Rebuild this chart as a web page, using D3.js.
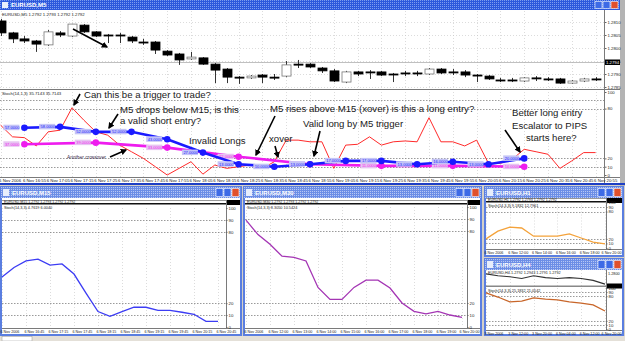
<!DOCTYPE html>
<html>
<head>
<meta charset="utf-8">
<script src="https://cdn.jsdelivr.net/npm/d3@7"></script>
<style>
  body { margin: 0; background: #d4d0c8; }
  svg { display: block; font-family: "Liberation Sans", Arial, sans-serif; }
</style>
</head>
<body>
<svg id="chart" width="625" height="341"></svg>
<script>
// ---- EURUSD M5 candles ----
const m5Open  = [1.28104,1.28058,1.28035,1.28027,1.28012,1.28058,1.28046,1.28088,1.28062,1.28050,1.28050,1.28042,1.28023,1.28023,1.27988,1.27977,1.27958,1.27962,1.27938,1.27919,1.27888,1.27885,1.27896,1.27888,1.27892,1.27938,1.27938,1.27923,1.27912,1.27869,1.27908,1.27908,1.27908,1.27900,1.27904,1.27904,1.27900,1.27919,1.27908,1.27908,1.27896,1.27892,1.27877,1.27877,1.27873,1.27885,1.27881,1.27881,1.27865,1.27873,1.27881];
const m5High  = [1.28112,1.28062,1.28046,1.28031,1.28069,1.28065,1.28092,1.28092,1.28065,1.28054,1.28058,1.28046,1.28035,1.28027,1.27992,1.27981,1.27985,1.27965,1.27942,1.27923,1.27892,1.27896,1.27900,1.27900,1.27950,1.27954,1.27942,1.27927,1.27919,1.27912,1.27912,1.27915,1.27912,1.27904,1.27912,1.27912,1.27923,1.27923,1.27919,1.27915,1.27900,1.27896,1.27885,1.27885,1.27888,1.27892,1.27888,1.27885,1.27877,1.27885,1.27888];
const m5Low   = [1.28046,1.28019,1.28019,1.27985,1.28008,1.28042,1.28042,1.28058,1.28042,1.28019,1.28019,1.28019,1.28012,1.27977,1.27969,1.27935,1.27954,1.27935,1.27865,1.27865,1.27862,1.27881,1.27865,1.27877,1.27888,1.27923,1.27923,1.27904,1.27869,1.27865,1.27892,1.27881,1.27892,1.27869,1.27892,1.27892,1.27896,1.27900,1.27896,1.27888,1.27869,1.27877,1.27869,1.27869,1.27869,1.27873,1.27873,1.27862,1.27862,1.27869,1.27873];
const m5Close = [1.28058,1.28035,1.28027,1.28015,1.28062,1.28050,1.28092,1.28062,1.28046,1.28048,1.28048,1.28027,1.28021,1.27992,1.27973,1.27954,1.27965,1.27938,1.27915,1.27888,1.27887,1.27892,1.27888,1.27887,1.27935,1.27937,1.27927,1.27912,1.27873,1.27908,1.27900,1.27906,1.27896,1.27898,1.27902,1.27902,1.27919,1.27904,1.27906,1.27896,1.27894,1.27881,1.27875,1.27875,1.27885,1.27883,1.27879,1.27865,1.27873,1.27881,1.27879];
const priceTicks = [1.2810, 1.2805, 1.2800, 1.2795, 1.2790, 1.2785];
const m5Ticks = ["6 Nov 2006","6 Nov 16:55","6 Nov 17:05","6 Nov 17:15","6 Nov 17:25","6 Nov 17:35","6 Nov 17:45","6 Nov 17:55","6 Nov 18:05","6 Nov 18:15","6 Nov 18:25","6 Nov 18:35","6 Nov 18:45","6 Nov 18:55","6 Nov 19:05","6 Nov 19:15","6 Nov 19:25","6 Nov 19:35","6 Nov 19:45","6 Nov 19:55","6 Nov 20:05","6 Nov 20:15","6 Nov 20:25","6 Nov 20:35","6 Nov 20:45","6 Nov 20:55"];

// ---- stochastics drawn on the M5 chart ----
const stochM5 = [60,46,45,35,52,54,81,66,52,48,36,28,20,10,0,8,16,1,12,8,10,12,8,16,42,42,40,40,8,36,37,46,36,40,41,40,69,40,40,35,42,14,14,19,31,28,25,8,17,27,27];
const stochM15Bars = [2,5,8,11,14,17,20,23,26,29,32,35,38,41,44];
const stochM15 = [57,58,52,52,43,27,13,10,13,17,17,13,16,13,20];
const stochM30Bars = [2,8,14,20,26,32,38,44];
const stochM30 = [37,39,33,22,13,11,11,10];
const stochLevels = [90,80,20,10];
const stochTicks = [100,80,20,10,0];

// ---- other time frames ----
const m15Ticks = ["6 Nov 2006","6 Nov 16:45","6 Nov 17:15","6 Nov 17:45","6 Nov 18:15","6 Nov 18:45","6 Nov 19:15","6 Nov 19:45","6 Nov 20:15","6 Nov 20:45"];
const m15Stoch = [42,50,55.5,57,52,53,44.5,28.5,13,9,13,16.6,16.6,14,14,12.4,10.7,4.8,4.8];
const m30Ticks = ["6 Nov 2006","6 Nov 12:00","6 Nov 13:00","6 Nov 14:00","6 Nov 15:00","6 Nov 16:00","6 Nov 17:00","6 Nov 18:00","6 Nov 19:00","6 Nov 20:00"];
const m30Stoch = [89,77,69,59,58,55,33,23,23,33,39,39,32.5,20,13,11,13,10,8];
const h1Ticks = ["6 Nov 2006","6 Nov 12:00","6 Nov 14:00","6 Nov 16:00","6 Nov 18:00","6 Nov 20:00"];
const h1Stoch = [20,37,46,44,26,26,26,31,22,13,9];
const h4Ticks = ["3 Nov 2006","3 Nov 12:00","3 Nov 20:00","6 Nov 04:00","6 Nov 12:00","6 Nov 20:00"];
const h4Close = [1.27995,1.27984,1.27978,1.27968,1.27984,1.27973,1.27968,1.27973,1.27968,1.27957,1.27935];
const h4Stoch = [88,78,66,68,76,73,71,66,63,59,44];

// ---- annotations (pixel layout) ----
const notes = [
  {t: "Can this be a trigger to trade?", x: 84, y: 98},
  {t: "M5 drops below M15, is this", x: 120, y: 113},
  {t: "a valid short entry?", x: 120, y: 124},
  {t: "Invalid Longs", x: 189, y: 144},
  {t: "M5 rises above M15 (xover) is this a long entry?", x: 270, y: 112},
  {t: "xover", x: 269, y: 142},
  {t: "Valid long by M5 trigger", x: 303, y: 127},
  {t: "Better long entry", x: 512, y: 116},
  {t: "Escalator to PIPS", x: 512, y: 129},
  {t: "starts here?", x: 526, y: 141}
];
const arrows = [
  [73,29,107,47], [80,94,74,105], [118,114,109,128], [110,157,126,150],
  [275,116,256,155], [275,146,278,157], [320,131,314,156], [505,130,520,152]
];

const svg = d3.select("#chart");
const defs = svg.append("defs");

function dither(id, base, dot) {
  const p = defs.append("pattern").attr("id", id)
      .attr("width", 2).attr("height", 2).attr("patternUnits", "userSpaceOnUse");
  p.append("rect").attr("width", 2).attr("height", 2).attr("fill", base);
  p.append("rect").attr("width", 1).attr("height", 1).attr("fill", dot);
}
dither("barOn", "#2c58dc", "#7d9cf0");
dither("barOff", "#6c8ee6", "#b8c8f4");

defs.append("marker").attr("id", "head")
    .attr("viewBox", "0 0 10 10").attr("refX", 8).attr("refY", 5)
    .attr("markerWidth", 4).attr("markerHeight", 4).attr("orient", "auto")
  .append("path").attr("d", "M0,0L10,5L0,10z").attr("fill", "#000");

function titleBar(g, w, h, title, active) {
  g.append("rect").attr("width", w).attr("height", h).attr("fill", `url(#${active ? "barOn" : "barOff"})`);
  g.append("rect").attr("x", 2).attr("y", 2).attr("width", 6).attr("height", h - 4).attr("fill", "#e8eefc");
  g.append("text").attr("x", 11).attr("y", h - 3).attr("fill", "#fff")
      .attr("font-size", 6).attr("font-weight", "bold").text(title);
  [w - 25, w - 17, w - 9].forEach((bx, k) => {
    g.append("rect").attr("x", bx).attr("y", 1.5).attr("width", 7).attr("height", h - 3)
        .attr("fill", k === 2 ? "#e0502c" : "#3d6ae6").attr("stroke", "#fff").attr("stroke-width", 0.6);
  });
}

// maxX: labels running past this edge are pulled back inside
function timeAxis(g, x, ticks, step, y, maxX, fs) {
  const ax = d3.axisBottom(x)
      .tickValues(ticks.map((t, k) => k * step))
      .tickFormat((d, k) => ticks[k])
      .tickSize(0).tickPadding(1.5);
  const a = g.append("g").attr("transform", `translate(0,${y})`).call(ax);
  a.attr("font-family", null).attr("font-size", null);
  a.select(".domain").remove();
  a.selectAll("text").attr("text-anchor", "start").attr("dx", -2)
      .attr("font-size", fs).attr("fill", "#222")
      .each(function(d) {
        const len = this.getComputedTextLength();
        const over = x(d) - 2 + len - maxX;
        if (over > 0) d3.select(this).attr("dx", -2 - over);
      });
}

function valueAxis(g, y, ticks, x, fmt) {
  const a = g.append("g").attr("transform", `translate(${x},0)`)
      .call(d3.axisRight(y).tickValues(ticks).tickFormat(fmt).tickSize(1.5).tickPadding(1));
  a.attr("font-family", null).attr("font-size", null);
  a.select(".domain").remove();
  a.selectAll("line").attr("stroke", "#666");
  a.selectAll("text").attr("font-size", 4.3).attr("fill", "#222");
}

function vGrid(g, x, ticks, step, y0, y1) {
  g.append("g").selectAll("line").data(ticks.map((t, k) => k * step)).join("line")
      .attr("x1", d => Math.round(x(d)) + 0.5).attr("x2", d => Math.round(x(d)) + 0.5)
      .attr("y1", y0).attr("y2", y1)
      .attr("stroke", "#c4c4c4").attr("stroke-width", 0.6).attr("stroke-dasharray", "1,2");
}

function levelLines(g, y, x0, x1) {
  g.append("g").selectAll("line").data(stochLevels).join("line")
      .attr("x1", x0).attr("x2", x1)
      .attr("y1", d => Math.round(y(d)) + 0.5).attr("y2", d => Math.round(y(d)) + 0.5)
      .attr("stroke", "#6e6e6e").attr("stroke-width", 0.7).attr("stroke-dasharray", "1.5,1.5");
}

// ---------- main M5 window ----------
const main = svg.append("g");
main.append("rect").attr("x", 620).attr("width", 5).attr("height", 186).attr("fill", "#b4b4b4");
titleBar(main.append("g"), 620, 10, "EURUSD,M5", true);
main.append("rect").attr("y", 10).attr("width", 620).attr("height", 173).attr("fill", "#fff");
main.append("rect").attr("y", 183).attr("width", 625).attr("height", 2).attr("fill", "#1e3fc4");

const xM5 = d3.scaleLinear().domain([0, 50]).range([0.6, 595.6]);
const yPrice = d3.scaleLinear().domain([1.2785, 1.2810]).range([87, 22]);
const yStoch = d3.scaleLinear().domain([0, 100]).range([175, 92]);

vGrid(main, xM5, m5Ticks, 2, 11, 177);
main.append("g").selectAll("line").data(priceTicks).join("line")
    .attr("x1", 0).attr("x2", 604)
    .attr("y1", d => Math.round(yPrice(d)) + 0.5).attr("y2", d => Math.round(yPrice(d)) + 0.5)
    .attr("stroke", "#c4c4c4").attr("stroke-width", 0.6).attr("stroke-dasharray", "1,2");
main.append("line").attr("x1", 0).attr("x2", 604).attr("y1", 62.5).attr("y2", 62.5)
    .attr("stroke", "#b0b0b0").attr("stroke-width", 0.8);

main.append("text").attr("x", 2).attr("y", 16).attr("font-size", 4.3).attr("fill", "#222")
    .text("EURUSD,M5  1.2792 1.2793 1.2792 1.2792");

// candles
const bars = d3.range(m5Open.length);
main.append("g").selectAll("line").data(bars).join("line")
    .attr("x1", i => Math.round(xM5(i)) + 0.5).attr("x2", i => Math.round(xM5(i)) + 0.5)
    .attr("y1", i => yPrice(m5High[i])).attr("y2", i => yPrice(m5Low[i]))
    .attr("stroke", "#333").attr("stroke-width", 1);
main.append("g").selectAll("rect").data(bars).join("rect")
    .attr("x", i => Math.round(xM5(i)) - 4)
    .attr("width", 9)
    .attr("y", i => yPrice(Math.max(m5Open[i], m5Close[i])))
    .attr("height", i => Math.max(1, Math.abs(yPrice(m5Open[i]) - yPrice(m5Close[i]))))
    .attr("fill", i => m5Close[i] > m5Open[i] ? "#fff" : "#000")
    .attr("stroke", i => m5Close[i] > m5Open[i] ? "#777" : "#000")
    .attr("stroke-width", 0.8);

// axes frame
main.append("line").attr("x1", 604.5).attr("x2", 604.5).attr("y1", 10).attr("y2", 183).attr("stroke", "#7a7a7a");
main.append("line").attr("x1", 0).attr("x2", 620).attr("y1", 89.5).attr("y2", 89.5).attr("stroke", "#7a7a7a");
main.append("line").attr("x1", 0).attr("x2", 620).attr("y1", 177.5).attr("y2", 177.5).attr("stroke", "#7a7a7a");
valueAxis(main, yPrice, priceTicks, 605, d3.format(".4f"));
main.append("rect").attr("x", 605).attr("y", 59.5).attr("width", 15).attr("height", 5.5).attr("fill", "#000");
main.append("text").attr("x", 606).attr("y", 64).attr("font-size", 4.3).attr("fill", "#fff").text("1.2794");

// stochastic sub-window
levelLines(main, yStoch, 0, 604);
valueAxis(main, yStoch, stochTicks, 605, d3.format("d"));
main.append("text").attr("x", 2).attr("y", 95).attr("font-size", 4.3).attr("fill", "#222")
    .text("Stoch(14,1,3) 35.7143 35.7143");
timeAxis(main, xM5, m5Ticks, 2, 177.5, 619, 4.3);

main.append("path").datum(stochM5)
    .attr("fill", "none").attr("stroke", "#ff2a2a").attr("stroke-width", 1)
    .attr("d", d3.line().x((d, i) => xM5(i)).y(d => yStoch(d)));

function dottedSeries(idx, vals, color, tagFill) {
  const g = main.append("g");
  g.append("path").datum(vals)
      .attr("fill", "none").attr("stroke", color).attr("stroke-width", 2.6)
      .attr("d", d3.line().x((d, k) => xM5(idx[k])).y(d => yStoch(d)));
  const tag = g.selectAll("g.tag").data(vals).join("g")
      .attr("transform", (d, k) => `translate(${xM5(idx[k]) - 21},${yStoch(d) - 3})`);
  tag.append("rect").attr("width", 16).attr("height", 5.5).attr("fill", tagFill);
  tag.append("text").attr("x", 1.5).attr("y", 4.3).attr("font-size", 4).attr("fill", color)
      .text(d => d.toFixed(4));
  g.selectAll("circle").data(vals).join("circle")
      .attr("cx", (d, k) => xM5(idx[k])).attr("cy", d => yStoch(d))
      .attr("r", 3.3).attr("fill", color);
}
dottedSeries(stochM30Bars, stochM30, "#ee1cee", "#e7c4f2");
dottedSeries(stochM15Bars, stochM15, "#1a1aff", "#c4c4f6");

// annotations
main.append("g").selectAll("text").data(notes).join("text")
    .attr("x", d => d.x).attr("y", d => d.y)
    .attr("font-size", 9.6).attr("fill", "#1a1a1a").text(d => d.t);
main.append("text").attr("x", 67).attr("y", 159).attr("font-size", 4.8).attr("fill", "#3a2a4a")
    .text("Another crossover");
main.append("g").selectAll("line").data(arrows).join("line")
    .attr("x1", d => d[0]).attr("y1", d => d[1]).attr("x2", d => d[2]).attr("y2", d => d[3])
    .attr("stroke", "#000").attr("stroke-width", 1.6).attr("marker-end", "url(#head)");

// ---------- child windows ----------
function childWindow(x, y, w, h, title) {
  const g = svg.append("g").attr("transform", `translate(${x},${y})`);
  g.append("rect").attr("width", w).attr("height", h).attr("fill", "#5a7ee0");
  titleBar(g.append("g").attr("transform", "translate(1,1)"), w - 2, 11, title, false);
  g.append("rect").attr("x", 2).attr("y", 12).attr("width", w - 4).attr("height", h - 14).attr("fill", "#fff");
  return g;
}

function stochWindow(o) {
  const g = childWindow(o.x, o.y, o.w, o.h, o.title);
  const x = d3.scaleLinear().domain([0, o.values.length - 1]).range(o.xr);
  const y = d3.scaleLinear().domain([0, 100]).range(o.yr);
  const ax = o.xr[1] + o.pad;
  // collapsed price pane
  g.append("line").attr("x1", 2).attr("x2", ax).attr("y1", o.band + 0.5).attr("y2", o.band + 0.5).attr("stroke", "#999");
  g.append("rect").attr("x", 2).attr("y", o.band + 3).attr("width", ax - 2).attr("height", 1.5).attr("fill", "#111");
  g.append("text").attr("x", 4).attr("y", o.band + 2.8).attr("font-size", 3.6).attr("fill", "#222")
      .text(o.title + " 1.2792 1.2793 1.2792 1.2792");
  g.append("rect").attr("x", ax).attr("y", o.band).attr("width", o.w - 2 - ax).attr("height", 5).attr("fill", "#000");
  vGrid(g, x, o.ticks, 2, o.yr[1], o.yr[0]);
  levelLines(g, y, 2, ax);
  g.append("line").attr("x1", ax + 0.5).attr("x2", ax + 0.5).attr("y1", o.band).attr("y2", o.yr[0] + 2).attr("stroke", "#7a7a7a");
  g.append("line").attr("x1", 2).attr("x2", o.w - 2).attr("y1", o.yr[0] + 1.5).attr("y2", o.yr[0] + 1.5).attr("stroke", "#7a7a7a");
  valueAxis(g, y, [100, 90, 80, 20, 10, 0], ax, d3.format("d"));
  g.append("text").attr("x", 4).attr("y", o.band + 9).attr("font-size", 3.8).attr("fill", "#222").text(o.label);
  timeAxis(g, x, o.ticks, 2, o.yr[0] + 1.5, o.w - 3, 3.7);
  g.append("path").datum(o.values)
      .attr("fill", "none").attr("stroke", o.color).attr("stroke-width", 1.3)
      .attr("d", d3.line().x((d, i) => x(i)).y(d => y(d)));
  return g;
}

stochWindow({x: 0, y: 186, w: 242, h: 150, title: "EURUSD,M15", band: 14,
  xr: [2, 218], yr: [141, 22], pad: 8, ticks: m15Ticks, values: m15Stoch,
  color: "#3c3cf4", label: "Stoch(14,3,3) 4.7619 6.0040"});
stochWindow({x: 243, y: 186, w: 239, h: 150, title: "EURUSD,M30", band: 14,
  xr: [3, 219], yr: [141, 21], pad: 5, ticks: m30Ticks, values: m30Stoch,
  color: "#a435b4", label: "Stoch(14,3,3) 8.3050 10.5424"});
stochWindow({x: 484, y: 186, w: 140, h: 71, title: "EURUSD,H1", band: 12,
  xr: [2, 121], yr: [62, 16.5], pad: 1, ticks: h1Ticks, values: h1Stoch,
  color: "#f4a23a", label: "Stoch(14,3,3) 9.1832 12.7961"});

// H4 window: price line pane + stochastic pane
{
  const g = childWindow(484, 258, 140, 78, "EURUSD,H4");
  const x = d3.scaleLinear().domain([0, h4Close.length - 1]).range([2, 121]);
  const yP = d3.scaleLinear().domain([1.2793, 1.2800]).range([27, 15]);
  const y = d3.scaleLinear().domain([0, 100]).range([71, 30]);
  const ax = 122;
  vGrid(g, x, h4Ticks, 2, 12, 72);
  g.append("text").attr("x", 4).attr("y", 16).attr("font-size", 3.8).attr("fill", "#222")
      .text("EURUSD,H4 1.2792 1.2943 1.2791 1.2792");
  g.append("path").datum(h4Close)
      .attr("fill", "none").attr("stroke", "#333").attr("stroke-width", 1.2)
      .attr("d", d3.line().x((d, i) => x(i)).y(d => yP(d)));
  g.append("rect").attr("x", 2).attr("y", 27.5).attr("width", ax - 2).attr("height", 1.5).attr("fill", "#888");
  g.append("rect").attr("x", ax).attr("y", 25.5).attr("width", 16).attr("height", 5).attr("fill", "#000");
  g.append("text").attr("x", ax + 2).attr("y", 17).attr("font-size", 3.8).attr("fill", "#222").text("1.2800");
  levelLines(g, y, 2, ax);
  g.append("line").attr("x1", ax + 0.5).attr("x2", ax + 0.5).attr("y1", 12).attr("y2", 73).attr("stroke", "#7a7a7a");
  g.append("line").attr("x1", 2).attr("x2", 138).attr("y1", 72.5).attr("y2", 72.5).attr("stroke", "#7a7a7a");
  valueAxis(g, y, [100, 90, 80, 20, 10, 0], ax, d3.format("d"));
  g.append("text").attr("x", 4).attr("y", 34).attr("font-size", 3.8).attr("fill", "#222")
      .text("Stoch(14,3,3) 25.1832 21.0542");
  timeAxis(g, x, h4Ticks, 2, 72.5, 137, 3.7);
  g.append("path").datum(h4Stoch)
      .attr("fill", "none").attr("stroke", "#c8662a").attr("stroke-width", 1.3)
      .attr("d", d3.line().x((d, i) => x(i)).y(d => y(d)));
}

// status strip
svg.append("rect").attr("y", 336).attr("width", 625).attr("height", 5).attr("fill", "#e4e0d8");
svg.append("rect").attr("x", 2).attr("y", 336.5).attr("width", 30).attr("height", 4.5).attr("fill", "#fff").attr("stroke", "#999").attr("stroke-width", 0.5);
</script>
</body>
</html>
